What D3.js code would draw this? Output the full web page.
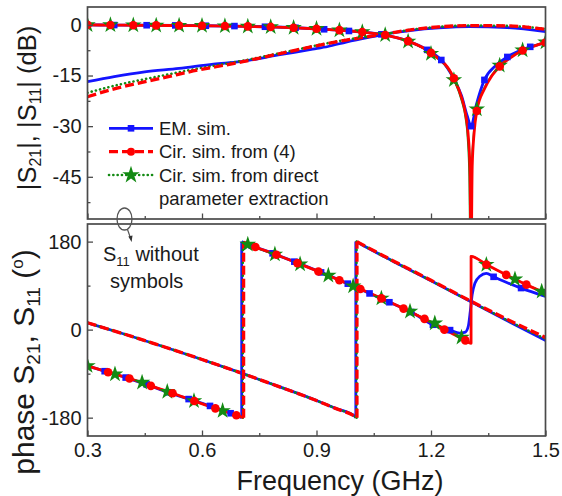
<!DOCTYPE html>
<html>
<head>
<meta charset="utf-8">
<script src="https://cdn.jsdelivr.net/npm/d3@7"></script>
<style>
html,body{margin:0;padding:0;background:#fff;}
svg{display:block;}
</style>
</head>
<body>
<svg id="chart" width="562" height="496"></svg>
<script>
// ---------------- DATA ----------------
const xTicks = [0.3, 0.6, 0.9, 1.2, 1.5];
const xMinor = [0.45, 0.75, 1.05, 1.35];
const magTicks = [0, -15, -30, -45];
const magMinor = [-7.5, -22.5, -37.5, -52.5];
const phTicks = [180, 0, -180];
const phMinor = [90, -90];

// Top panel: |S21| (with symbols)
const magS21_EM = [[0.30,0],[0.37,-0.05],[0.455,-0.1],[0.53,-0.15],[0.61,-0.25],[0.685,-0.35],[0.765,-0.55],[0.845,-0.85],[0.92,-1.3],[0.985,-1.8],[1.07,-2.8],[1.14,-4.8],[1.19,-7.4],[1.227,-10.4],[1.26,-16],[1.28,-21],[1.295,-27],[1.305,-30],[1.318,-24],[1.34,-16.3],[1.37,-12],[1.40,-9.5],[1.46,-6.5],[1.50,-5.3]];
const magS21_EM_sym = [0.37,0.455,0.53,0.61,0.685,0.765,0.845,0.92,0.985,1.07,1.14,1.19,1.227,1.26,1.305,1.34,1.40,1.46];
const magS21_C4 = [[0.30,0],[0.36,-0.05],[0.42,-0.1],[0.48,-0.15],[0.54,-0.2],[0.60,-0.25],[0.66,-0.35],[0.72,-0.45],[0.78,-0.6],[0.84,-0.85],[0.90,-1.15],[0.96,-1.55],[1.02,-2.1],[1.08,-3.0],[1.14,-4.8],[1.20,-8.3],[1.26,-15.8],[1.28,-21.5],[1.29,-26],[1.297,-32],[1.302,-42],[1.305,-70],[1.308,-42],[1.313,-32],[1.32,-25.5],[1.34,-19],[1.36,-15],[1.38,-12.3],[1.41,-9.6],[1.44,-7.6],[1.47,-6.3],[1.50,-5.2]];
const magS21_CD = [[0.30,0],[0.36,-0.05],[0.42,-0.1],[0.48,-0.15],[0.54,-0.2],[0.60,-0.25],[0.66,-0.35],[0.72,-0.45],[0.78,-0.6],[0.84,-0.85],[0.90,-1.15],[0.96,-1.55],[1.02,-2.1],[1.08,-3.0],[1.14,-4.9],[1.20,-8.5],[1.26,-16.3],[1.28,-22.5],[1.29,-27.5],[1.296,-34],[1.30,-45],[1.303,-70],[1.306,-44],[1.311,-33],[1.32,-25],[1.34,-18.5],[1.36,-14.7],[1.38,-12],[1.41,-9.4],[1.44,-7.5],[1.47,-6.2],[1.50,-5.1]];
const circuitSym = [0.30,0.36,0.42,0.48,0.54,0.60,0.66,0.72,0.78,0.84,0.90,0.96,1.02,1.08,1.14,1.20,1.26,1.32,1.38,1.44,1.50];

// Top panel: |S11| (no symbols)
const magS11_EM = [[0.30,-16.8],[0.37,-15.3],[0.45,-13.9],[0.54,-12.9],[0.63,-11.6],[0.70,-10.9],[0.80,-8.9],[0.89,-7.2],[0.93,-6.4],[0.98,-5.0],[1.02,-4.1],[1.08,-2.7],[1.15,-1.6],[1.22,-0.9],[1.30,-0.5],[1.40,-0.8],[1.50,-2.0]];
const magS11_C4 = [[0.30,-21.3],[0.375,-18.8],[0.44,-17.1],[0.506,-15.5],[0.567,-13.9],[0.637,-12.4],[0.707,-10.9],[0.768,-9.4],[0.829,-7.9],[0.899,-6.2],[0.978,-4.5],[1.08,-2.7],[1.15,-1.4],[1.22,-0.6],[1.30,-0.2],[1.40,-0.3],[1.50,-1.3]];
const magS11_CD = [[0.30,-20.1],[0.375,-17.9],[0.44,-16.3],[0.506,-14.8],[0.567,-13.4],[0.637,-12.0],[0.707,-10.6],[0.768,-9.2],[0.829,-7.8],[0.899,-6.1],[0.978,-4.4],[1.08,-2.7],[1.15,-1.4],[1.22,-0.6],[1.30,-0.2],[1.40,-0.3],[1.50,-1.2]];

// Bottom panel: phase S21 (with symbols)
const phS21_EM = [[0.30,-74],[0.345,-85],[0.40,-98],[0.455,-112],[0.51,-128],[0.565,-142],[0.621,-156],[0.675,-171],[0.704,-180],[0.704,180],[0.73,172],[0.785,156],[0.842,139],[0.912,117],[0.982,94],[1.039,74],[1.091,56],[1.148,36],[1.205,10],[1.25,-1],[1.275,-7],[1.29,-5],[1.298,8],[1.303,38],[1.308,72],[1.315,95],[1.328,109],[1.345,115],[1.364,108],[1.40,96],[1.436,85],[1.50,68]];
const phS21_EM_sym = [0.345,0.40,0.455,0.51,0.565,0.621,0.675,0.73,0.785,0.842,0.912,0.982,1.039,1.091,1.148,1.205,1.25,1.364,1.436];
const phS21_C4 = [[0.30,-74],[0.354,-87],[0.41,-100],[0.466,-115],[0.523,-130],[0.58,-146],[0.635,-161],[0.69,-175],[0.709,-180],[0.709,179],[0.74,169],[0.795,153],[0.85,136],[0.905,119],[0.96,101],[1.015,83],[1.07,64],[1.128,43],[1.183,22],[1.235,0],[1.29,-22],[1.305,-28],[1.305,150],[1.345,133],[1.397,112],[1.45,92],[1.50,74]];
const phS21_C4_sym = [0.354,0.41,0.466,0.523,0.58,0.635,0.69,0.74,0.795,0.85,0.905,0.96,1.015,1.07,1.128,1.183,1.235,1.29,1.345,1.397,1.45];
const phS21_CD = [[0.30,-74],[0.372,-91],[0.443,-108],[0.509,-127],[0.579,-146],[0.654,-166],[0.707,-180],[0.707,180],[0.72,174],[0.791,154],[0.857,134],[0.931,111],[0.996,89],[1.07,64],[1.145,37],[1.21,13],[1.28,-16],[1.305,-28],[1.305,150],[1.345,133],[1.42,103],[1.49,78],[1.50,74]];
const phS21_CD_sym = [0.30,0.372,0.443,0.509,0.579,0.654,0.72,0.791,0.857,0.931,0.996,1.07,1.145,1.21,1.28,1.345,1.42,1.49];

// Bottom panel: phase S11 (no symbols)
const phS11_EM = [[0.30,14],[0.40,-10],[0.50,-35],[0.60,-61],[0.70,-88],[0.80,-116],[0.90,-145],[0.95,-161],[1.00,-177],[1.003,-180],[1.003,180],[1.01,177],[1.10,140],[1.20,100],[1.30,59],[1.40,18],[1.50,-22]];
const phS11_C4 = [[0.30,14],[0.40,-10],[0.50,-35],[0.60,-61],[0.70,-88],[0.80,-116],[0.90,-145],[0.95,-161],[1.00,-177],[1.006,-180],[1.006,180],[1.013,177],[1.10,141],[1.20,101],[1.30,60],[1.40,21],[1.50,-16]];
const phS11_CD = [[0.30,14],[0.40,-10],[0.50,-35],[0.60,-61],[0.70,-88],[0.80,-116],[0.90,-145],[0.95,-161],[1.00,-177],[1.005,-180],[1.005,180],[1.012,177],[1.10,140],[1.20,100],[1.30,59],[1.40,19],[1.50,-19]];

const legendLabels = ["EM. sim.", "Cir. sim. from (4)", "Cir. sim. from direct", "parameter extraction"];

// ---------------- STYLE ----------------
const FONT = "'Liberation Sans', Arial, Helvetica, sans-serif";
const BLUE = "#1414ff", RED = "#ff0000", GREEN = "#138a13";
const AX = "#4a4a4a", TXT = "#1a1a1a";
const st = {
  blue: {stroke: BLUE, w: 2.8},
  redSolid: {stroke: RED, w: 2.8},
  redDash: {stroke: RED, w: 3.3, dash: "9,4"},
  greenSolid: {stroke: GREEN, w: 1.6},
  greenDot: {stroke: GREEN, w: 2.6, dash: "0.1,4.2", cap: "round"}
};

const svg = d3.select("#chart");
const L = 87.5, R = 545.5;
const x = d3.scaleLinear().domain([0.3, 1.5]).range([L, R]);
const yMag = d3.scaleLinear().domain([-57.5, 5.3]).range([219, 7]);
const yPh = d3.scaleLinear().domain([-217.5, 216]).range([436, 224]);

function clip(id, y0, y1) {
  svg.append("clipPath").attr("id", id).append("rect")
    .attr("x", L).attr("y", y0).attr("width", R - L).attr("height", y1 - y0);
}
clip("cTop", 7, 219);
clip("cBot", 224, 436);

function applyStyle(p, s) {
  p.attr("fill", "none").attr("stroke", s.stroke).attr("stroke-width", s.w)
   .attr("stroke-linejoin", "round").attr("stroke-linecap", s.cap || "butt");
  if (s.dash) p.attr("stroke-dasharray", s.dash);
}

function drawSeries(g, y, data, mainS, jumpS) {
  const runs = [];
  let cur = [data[0]];
  for (let i = 1; i < data.length; i++) {
    if (Math.abs(data[i][1] - data[i - 1][1]) > 200) {
      runs.push({pts: cur, jump: false});
      runs.push({pts: [data[i - 1], data[i]], jump: true});
      cur = [data[i]];
    } else cur.push(data[i]);
  }
  runs.push({pts: cur, jump: false});
  runs.forEach(r => {
    const gen = d3.line().x(d => x(d[0])).y(d => y(d[1]))
      .curve(r.jump ? d3.curveLinear : d3.curveMonotoneX);
    const p = g.append("path").attr("d", gen(r.pts));
    applyStyle(p, r.jump ? jumpS : mainS);
  });
}

function drawMarkers(g, y, data, symF, type) {
  const pts = data.filter(d => symF.some(f => Math.abs(f - d[0]) < 1e-9));
  const seen = new Set();
  const uniq = pts.filter(d => { const k = d[0].toFixed(4); if (seen.has(k)) return false; seen.add(k); return true; });
  uniq.forEach(d => {
    const cx = x(d[0]), cy = y(d[1]);
    if (type === "sq") g.append("rect").attr("x", cx - 3.3).attr("y", cy - 3.3).attr("width", 6.6).attr("height", 6.6).attr("fill", BLUE);
    else if (type === "star") g.append("path").attr("d", d3.symbol().type(d3.symbolStar).size(85)()).attr("transform", `translate(${cx},${cy})`).attr("fill", GREEN);
    else g.append("circle").attr("cx", cx).attr("cy", cy).attr("r", 4.3).attr("fill", RED);
  });
}

// ---------- TOP PANEL ----------
const gT = svg.append("g").attr("clip-path", "url(#cTop)");
drawSeries(gT, yMag, magS11_EM, st.blue, st.blue);
drawSeries(gT, yMag, magS11_CD, st.greenDot, st.greenDot);
drawSeries(gT, yMag, magS11_C4, st.redDash, st.redDash);
drawSeries(gT, yMag, magS21_EM, st.blue, st.blue);
drawSeries(gT, yMag, magS21_CD, st.greenSolid, st.greenDot);
drawSeries(gT, yMag, magS21_C4, st.redSolid, st.redDash);
drawMarkers(gT, yMag, magS21_EM, magS21_EM_sym, "sq");
drawMarkers(gT, yMag, magS21_CD, circuitSym, "star");
drawMarkers(gT, yMag, magS21_C4, circuitSym, "circ");

// ---------- BOTTOM PANEL ----------
const gB = svg.append("g").attr("clip-path", "url(#cBot)");
drawSeries(gB, yPh, phS11_EM, st.blue, st.blue);
drawSeries(gB, yPh, phS11_CD, st.greenDot, st.greenDot);
drawSeries(gB, yPh, phS11_C4, st.redDash, st.redDash);
drawSeries(gB, yPh, phS21_EM, st.blue, st.blue);
drawSeries(gB, yPh, phS21_CD, st.greenSolid, st.greenDot);
drawSeries(gB, yPh, phS21_C4, st.redSolid, st.redDash);
drawMarkers(gB, yPh, phS21_EM, phS21_EM_sym, "sq");
drawMarkers(gB, yPh, phS21_CD, phS21_CD_sym, "star");
drawMarkers(gB, yPh, phS21_C4, phS21_C4_sym, "circ");

// ---------- AXES ----------
function styleAxis(g) {
  g.select(".domain").remove();
  g.selectAll(".tick line").attr("stroke", AX).attr("stroke-width", 1.3);
  g.selectAll("text").attr("font-family", FONT).attr("fill", TXT);
}
function axes(y, yT, yM, y0, y1, showX) {
  const gl = svg.append("g").attr("transform", `translate(${L},0)`)
    .call(d3.axisLeft(y).tickValues(yT).tickSize(-5.5).tickPadding(6).tickFormat(d => String(d)));
  gl.attr("font-size", 20); styleAxis(gl);
  const glm = svg.append("g").attr("transform", `translate(${L},0)`)
    .call(d3.axisLeft(y).tickValues(yM).tickSize(-3).tickFormat(""));
  styleAxis(glm);
  const gb = svg.append("g").attr("transform", `translate(0,${y1})`)
    .call(d3.axisBottom(x).tickValues(xTicks).tickSize(-5.5).tickPadding(7).tickFormat(showX ? d3.format(".1f") : ""));
  gb.attr("font-size", 20); styleAxis(gb);
  const gbm = svg.append("g").attr("transform", `translate(0,${y1})`)
    .call(d3.axisBottom(x).tickValues(xMinor).tickSize(-3).tickFormat(""));
  styleAxis(gbm);
  svg.append("rect").attr("x", L).attr("y", y0).attr("width", R - L).attr("height", y1 - y0)
    .attr("fill", "none").attr("stroke", AX).attr("stroke-width", 1.7);
}
axes(yMag, magTicks, magMinor, 7, 219, false);
axes(yPh, phTicks, phMinor, 224, 436, true);

// ---------- TITLES ----------
const t1 = svg.append("text").attr("transform", "translate(36,108) rotate(-90)")
  .attr("text-anchor", "middle").attr("font-family", FONT).attr("font-size", 25.5).attr("fill", TXT);
t1.append("tspan").text("|S");
t1.append("tspan").attr("font-size", 16).attr("dy", 5).text("21");
t1.append("tspan").attr("dy", -5).text("|, |S");
t1.append("tspan").attr("font-size", 16).attr("dy", 5).text("11");
t1.append("tspan").attr("dy", -5).text("| (dB)");

const t2 = svg.append("text").attr("transform", "translate(34,362) rotate(-90)")
  .attr("text-anchor", "middle").attr("font-family", FONT).attr("font-size", 30).attr("fill", TXT);
t2.append("tspan").text("phase S");
t2.append("tspan").attr("font-size", 19).attr("dy", 6).text("21");
t2.append("tspan").attr("dy", -6).text(", S");
t2.append("tspan").attr("font-size", 19).attr("dy", 6).text("11");
t2.append("tspan").attr("dy", -6).text(" (");
t2.append("tspan").attr("font-size", 17).attr("dy", -11).text("o");
t2.append("tspan").attr("dy", 11).text(")");

svg.append("text").attr("x", 340).attr("y", 490).attr("text-anchor", "middle")
  .attr("font-family", FONT).attr("font-size", 27).attr("fill", TXT).text("Frequency (GHz)");

// ---------- LEGEND ----------
const lg = svg.append("g");
const rows = [128.3, 151.7, 175, 198.3];
const lx0 = 109, lx1 = 153, lxm = 131;
[[st.blue, "sq"], [st.redDash, "circ"], [st.greenDot, "star"]].forEach((r, i) => {
  const p = lg.append("path").attr("d", d3.line()([[lx0, rows[i]], [lx1, rows[i]]]));
  applyStyle(p, r[0]);
  if (r[1] === "sq") lg.append("rect").attr("x", lxm - 3.3).attr("y", rows[i] - 3.3).attr("width", 6.6).attr("height", 6.6).attr("fill", BLUE);
  else if (r[1] === "circ") lg.append("circle").attr("cx", lxm).attr("cy", rows[i]).attr("r", 4).attr("fill", RED);
  else lg.append("path").attr("d", d3.symbol().type(d3.symbolStar).size(95)()).attr("transform", `translate(${lxm},${rows[i]})`).attr("fill", GREEN);
});
legendLabels.forEach((t, i) => {
  lg.append("text").attr("x", 159).attr("y", rows[i] + 6.5).attr("font-family", FONT)
    .attr("font-size", 18.5).attr("fill", TXT).text(t);
});

// ---------- ANNOTATION ----------
svg.append("ellipse").attr("cx", 124.5).attr("cy", 219).attr("rx", 7.5).attr("ry", 11)
  .attr("fill", "none").attr("stroke", "#555").attr("stroke-width", 1.3);
svg.append("line").attr("x1", 127.5).attr("y1", 229.5).attr("x2", 130.5).attr("y2", 238)
  .attr("stroke", "#555").attr("stroke-width", 1.2);
svg.append("path").attr("d", "M128.3,236.5 L131.6,242 L132.5,235.5 Z").attr("fill", "#333");

const a1 = svg.append("text").attr("x", 103).attr("y", 261).attr("font-family", FONT)
  .attr("font-size", 20).attr("fill", TXT);
a1.append("tspan").text("S");
a1.append("tspan").attr("font-size", 13).attr("dy", 5).text("11");
a1.append("tspan").attr("dy", -5).text(" without");
svg.append("text").attr("x", 110).attr("y", 288).attr("font-family", FONT)
  .attr("font-size", 20).attr("fill", TXT).text("symbols");
</script>
</body>
</html>
